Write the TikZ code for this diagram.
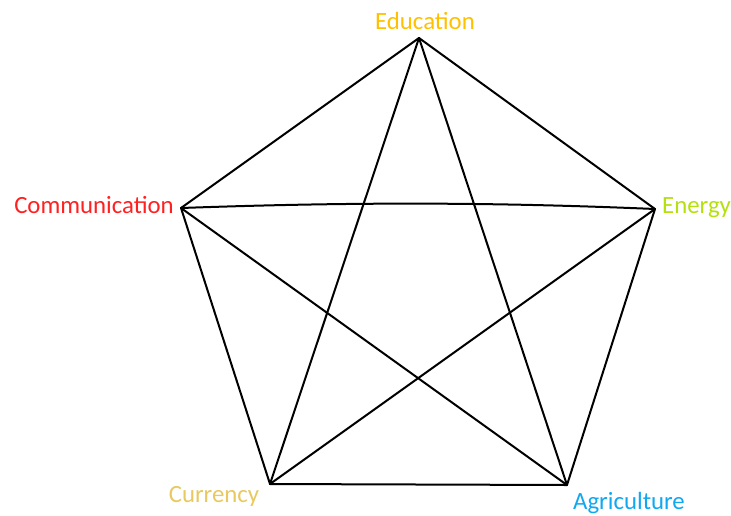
\documentclass[tikz,border=0pt]{standalone}
\usepackage{fontspec}
\setmainfont{Carlito}
\definecolor{cEdu}{HTML}{FFC000}
\definecolor{cCom}{HTML}{FF2020}
\definecolor{cEne}{HTML}{B4E010}
\definecolor{cCur}{HTML}{E8C860}
\definecolor{cAgr}{HTML}{10A8F0}
\begin{document}
\begin{tikzpicture}[x=1pt,y=-1pt,
  lbl/.style={inner sep=0pt,font=\fontsize{24.8}{26}\selectfont},
  edge/.style={line width=2pt,line cap=round,line join=round}]
\useasboundingbox (0,0) rectangle (731,515);
\coordinate (edu) at (419,38);
\coordinate (com) at (181,208);
\coordinate (ene) at (655,209);
\coordinate (cur) at (270,484);
\coordinate (agr) at (567,485);
\node[lbl,text=cEdu] (tedu) at (425,21) {Education};
\node[lbl,text=cCom,anchor=east] (tcom) at (174,205) {Communication};
\node[lbl,text=cEne,anchor=west] (tene) at (662,208) {Energy};
\node[lbl,text=cCur] (tcur) at (214,496) {Currency};
\node[lbl,text=cAgr,anchor=west] (tagr) at (573,503) {Agriculture};
\draw[edge] (edu) -- (ene) -- (agr) -- (cur) -- (com) -- (edu);
\draw[edge] (edu) -- (cur);
\draw[edge] (edu) -- (agr);
\draw[edge] (com) .. controls (350,202) and (490,202) .. (ene);
\draw[edge] (com) -- (agr);
\draw[edge] (ene) -- (cur);
\end{tikzpicture}
\end{document}
